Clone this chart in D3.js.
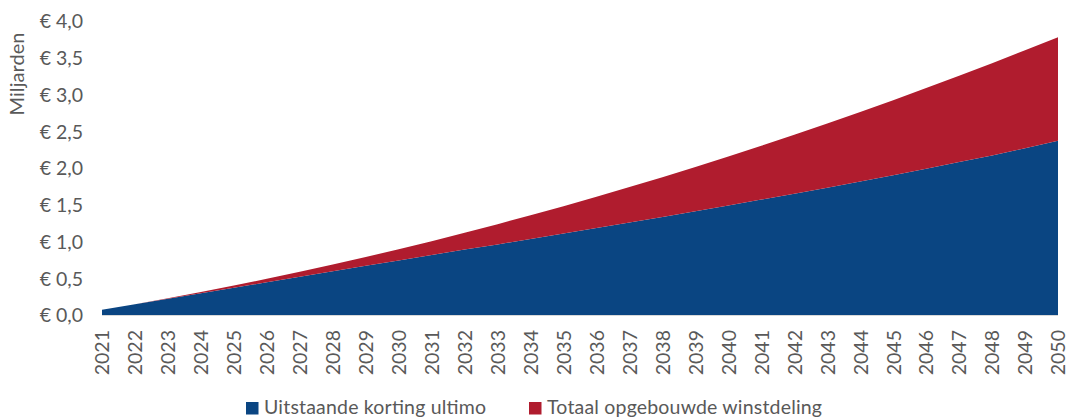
<!DOCTYPE html>
<html><head><meta charset="utf-8">
<script src="https://cdn.jsdelivr.net/npm/d3@7/dist/d3.min.js"></script>
<style>
body{margin:0;background:#fff;}
text{font-family:Lato, "Noto Sans", sans-serif;fill:#595959;}
</style></head>
<body>
<svg id="c" width="1068" height="417"></svg>
<script>
const years = ["2021","2022","2023","2024","2025","2026","2027","2028","2029","2030","2031","2032","2033","2034","2035","2036","2037","2038","2039","2040","2041","2042","2043","2044","2045","2046","2047","2048","2049","2050"];
const korting = [0.070,0.145,0.220,0.295,0.370,0.445,0.520,0.595,0.670,0.740,0.815,0.890,0.960,1.035,1.110,1.185,1.260,1.335,1.410,1.490,1.570,1.650,1.730,1.815,1.900,1.990,2.080,2.170,2.270,2.370];
const winstdeling = [0.000,0.002,0.008,0.017,0.031,0.047,0.068,0.091,0.119,0.155,0.190,0.229,0.276,0.321,0.371,0.423,0.480,0.540,0.604,0.666,0.732,0.802,0.875,0.947,1.023,1.097,1.175,1.256,1.331,1.410];
const yTicks = [0,0.5,1.0,1.5,2.0,2.5,3.0,3.5,4.0];
const seriesNames = ["Uitstaande korting ultimo","Totaal opgebouwde winstdeling"];
const colors = ["#0a4582","#b01c2e"];

const svg = d3.select("#c");
const m = {left:102, right:1068-1058, top:21, bottom:417-315};
const W = 1068, H = 417;
const x = d3.scalePoint().domain(years).range([m.left, W-m.right]);
const y = d3.scaleLinear().domain([0,4]).range([H-m.bottom, m.top]);

const rows = years.map((yr,i)=>({year:yr, k:korting[i], w:winstdeling[i]}));
const stack = d3.stack().keys(["k","w"])(rows);
const area = d3.area().x(d=>x(d.data.year)).y0(d=>y(d[0])).y1(d=>y(d[1]));

svg.append("g").selectAll("path").data(stack).join("path")
  .attr("d",area).attr("fill",(d,i)=>colors[i]);

// baseline
svg.append("line").attr("x1",m.left).attr("x2",W-m.right)
  .attr("y1",y(0)+0.5).attr("y2",y(0)+0.5).attr("stroke","#d9d9d9").attr("stroke-width",1.2);

// y axis
const fmt = v => "€ " + v.toFixed(1).replace(".",",");
const yAxis = d3.axisLeft(y).tickValues(yTicks).tickFormat(fmt).tickSize(0).tickPadding(0);
const gy = svg.append("g").attr("transform","translate(83,0)").call(yAxis);
gy.select(".domain").remove();
gy.selectAll("text").style("font-size","19.5px").style("font-family","Lato, sans-serif").attr("fill","#595959").attr("dy","0.35em");

// y title
svg.append("text").attr("transform","translate(24,74) rotate(-90)")
  .attr("text-anchor","middle").style("font-size","20px")
  .attr("textLength",83).attr("lengthAdjust","spacing").text("Miljarden");

// x axis
const xAxis = d3.axisBottom(x).tickSize(0).tickPadding(0);
const gx = svg.append("g").attr("transform",`translate(0,${y(0)})`).call(xAxis);
gx.select(".domain").remove();
gx.selectAll("text").style("font-size","19.5px").style("font-family","Lato, sans-serif").attr("fill","#595959")
  .attr("transform","rotate(-90)").attr("text-anchor","end").attr("x",-15).attr("y",0).attr("dy","0.35em");

// legend
const leg = svg.append("g");
const legX = [246, 529];
const legW = [222, 275];
seriesNames.forEach((n,i)=>{
  leg.append("rect").attr("x",legX[i]).attr("y",402).attr("width",12.5).attr("height",12.5).attr("fill",colors[i]);
  leg.append("text").attr("x",legX[i]+18).attr("y",414).style("font-size","19.5px")
    .attr("textLength",legW[i]).attr("lengthAdjust","spacing").text(n);
});
</script>
</body></html>
